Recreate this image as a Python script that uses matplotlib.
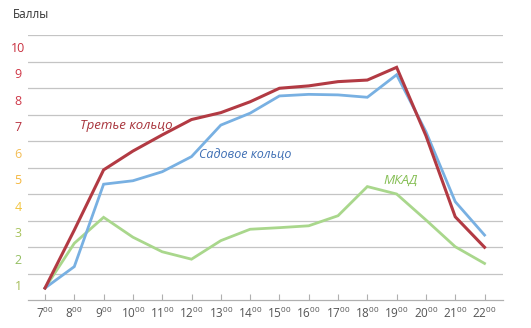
import matplotlib
matplotlib.use("Agg")
import matplotlib.pyplot as plt
import matplotlib.transforms as mtransforms

plt.rcParams['font.family'] = ['Open Sans', 'DejaVu Sans']
plt.rcParams['mathtext.fontset'] = 'custom'
plt.rcParams['mathtext.rm'] = 'Liberation Sans'

# часы суток и баллы пробок
hours = [7, 8, 9, 10, 11, 12, 13, 14, 15, 16, 17, 18, 19, 20, 21, 22]
ttk = [0.95, 3.14, 5.41, 6.12, 6.73, 7.31, 7.57, 7.98, 8.49, 8.58, 8.74, 8.8, 9.28, 6.7, 3.64, 2.49]
sadovoe = [0.95, 1.76, 4.87, 5.0, 5.34, 5.91, 7.1, 7.55, 8.2, 8.26, 8.24, 8.15, 9.0, 6.85, 4.21, 2.95]
mkad = [0.95, 2.64, 3.62, 2.87, 2.32, 2.04, 2.74, 3.17, 3.23, 3.3, 3.68, 4.78, 4.5, 3.52, 2.51, 1.88]

levels = list(range(1, 11))
level_colors = ['#a6bd5a', '#94bf62', '#a8c35c', '#f2c43f', '#f4b63c', '#f3bd55',
                '#b8303f', '#cf3a4a', '#cf3545', '#c9303f']

fig = plt.figure(figsize=(5.31, 3.28), dpi=100)
ax = fig.add_axes([28 / 531, 28 / 328, 475 / 531, 265 / 328])

ax.plot(hours, mkad, color='#a9d78c', lw=2.0, solid_joinstyle='miter', zorder=3)
ax.plot(hours, sadovoe, color='#78b0e2', lw=2.0, solid_joinstyle='miter', zorder=4)
ax.plot(hours, ttk, color='#b23a43', lw=2.2, solid_joinstyle='miter', zorder=5)

ax.set_xlim(6.42, 22.63)
ax.set_ylim(0.5, 10.5)

# горизонтальная сетка между уровнями
for v in levels:
    ax.axhline(v + 0.5, color='#c4c4c4', lw=0.9, zorder=1)

for s in ['top', 'right', 'left']:
    ax.spines[s].set_visible(False)
ax.spines['bottom'].set_color('#b0b0b0')
ax.spines['bottom'].set_linewidth(0.9)

ax.set_yticks([])
ax.set_xticks(hours)
ax.set_xticklabels([r'$\mathregular{%d^{00}}$' % h for h in hours])
ax.tick_params(axis='x', direction='in', length=4, width=0.8, color='#b0b0b0',
               labelsize=8.5, labelcolor='#555555', pad=4)

# подписи уровней слева
trans = mtransforms.blended_transform_factory(fig.transFigure, ax.transData)
for v, c in zip(levels, level_colors):
    ax.text(18 / 531, v, str(v), transform=trans, ha='center', va='center',
            fontsize=9, color=c)

fig.text(13 / 531, 1 - 15 / 328, 'Баллы', ha='left', va='center', fontsize=8.5, color='#333333')

ax.text(8.19, 7.07, 'Третье кольцо', color='#a8333b', fontsize=9.5, style='italic', va='center')
ax.text(12.26, 6.0, 'Садовое кольцо', color='#3f6fb4', fontsize=9, style='italic', va='center')
ax.text(18.54, 5.03, 'МКАД', color='#86bf55', fontsize=9.5, style='italic', va='center')

fig.savefig('out.png', dpi=100)
